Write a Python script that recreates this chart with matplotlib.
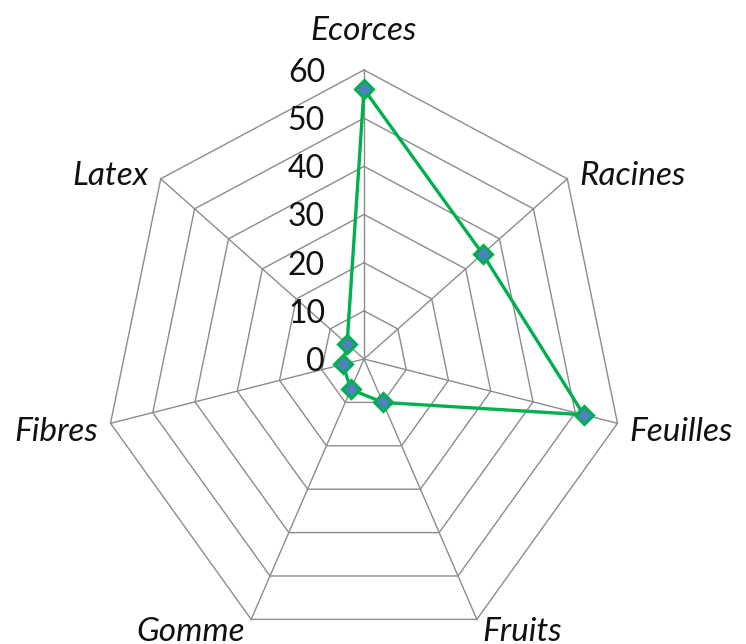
#Radar chart of plant parts used (Ecorces, Racines...), drawn by hand on a flat axes
#%% IMPORTING REQUIRED LIBRARIES
import numpy as np
import matplotlib.pyplot as plt

#%% DATA
categories = ["Ecorces", "Racines", "Feuilles", "Fruits", "Gomme", "Fibres", "Latex"]
values = [56, 35, 52, 10, 7, 5, 5] #Clockwise from the top
ringLevels = [10, 20, 30, 40, 50, 60]
tickLabels = ["0", "10", "20", "30", "40", "50", "60"]

#%% SETTINGS
rMax = 60
gridColour = "#8c8c8c"
lineColour = "#00b050"
markerColour = "#4f81bd"
plt.rcParams["font.family"] = ["Lato", "DejaVu Sans"]

#%% GEOMETRY
n = len(categories)
angles = np.arange(n) * 2 * np.pi / n #Clockwise from the top
def toXY(r, a): #Radar coords to flat coords
    return np.asarray(r) * np.sin(a), np.asarray(r) * np.cos(a)

#%% PLOT
fig = plt.figure(figsize=(7.46, 6.44), dpi=100)
ax = fig.add_axes([0, 0, 1, 1])
ax.set_xlim(-84.0, 88.15) #Picture is a bit squashed horizontally, so x and y use different scales
ax.set_ylim(-59.17, 74.53)
ax.axis("off")

closedAngles = np.append(angles, angles[0])
for level in ringLevels: #Heptagon rings
    gx, gy = toXY(np.full(n + 1, level), closedAngles)
    ax.plot(gx, gy, color=gridColour, lw=1.0, zorder=1)
for a in angles: #Spokes
    sx, sy = toXY([0, rMax], [a, a])
    ax.plot(sx, sy, color=gridColour, lw=1.0, zorder=1)

#Radial tick labels left of the top spoke
for i, lab in enumerate(tickLabels):
    ax.text(-9.0, i * 10 - 0.6, lab, ha="right", va="center", fontsize=23, color="#111111")

#Category labels just outside the outer ring, offset in pixels from each vertex
for cat, a in zip(categories, angles):
    s = np.sin(a)
    c = np.cos(a)
    vx, vy = toXY(rMax, a)
    if abs(s) < 0.1: #Top label
        ha, va, off = "center", "baseline", (0, 30)
    elif c < -0.5: #Bottom pair
        ha = "left" if s > 0 else "right"
        va, off = "top", (6 * np.sign(s), 2)
    else:
        ha = "left" if s > 0 else "right"
        va, off = "center", (12 * np.sign(s), 6 * np.sign(c) - 3)
    ax.annotate(cat, xy=(vx, vy), xytext=off, textcoords="offset pixels",
                ha=ha, va=va, fontsize=24, style="italic", color="#111111",
                annotation_clip=False)

#Series
px, py = toXY(np.append(values, values[0]), closedAngles)
ax.plot(px, py, color=lineColour, lw=2.4, zorder=3)
ax.plot(px[:-1], py[:-1], ls="none", marker="D", markersize=9,
        markerfacecolor=markerColour, markeredgecolor=lineColour, markeredgewidth=2.2, zorder=4)

fig.savefig("out.png", dpi=100)
